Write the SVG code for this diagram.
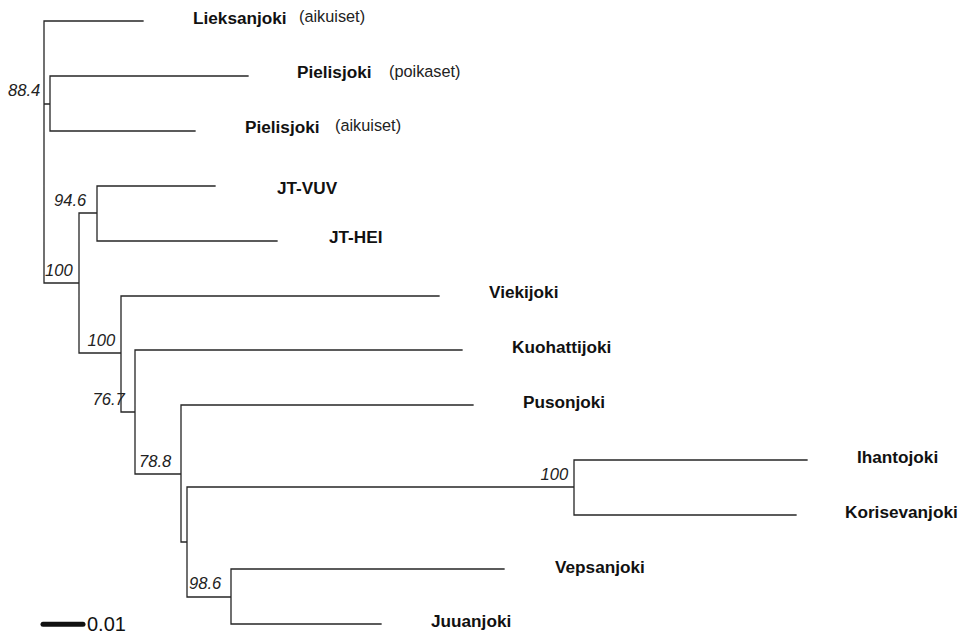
<svg xmlns="http://www.w3.org/2000/svg" width="964" height="634" viewBox="0 0 964 634">
<style>
.edge{fill:none;stroke:#262626;stroke-width:1.3;stroke-linecap:square}
.leaf{font-family:"Liberation Sans",Arial,sans-serif;font-weight:bold;font-size:17.2px;fill:#111}
.note{font-family:"Liberation Sans",Arial,sans-serif;font-size:16.3px;fill:#222}
.sup{font-family:"Liberation Sans",Arial,sans-serif;font-style:italic;font-size:16.6px;fill:#222}
.scale{fill:none;stroke:#111;stroke-width:5;stroke-linecap:round}
.scaletxt{font-family:"Liberation Sans",Arial,sans-serif;font-size:20px;fill:#111}
</style>
<rect width="964" height="634" fill="#ffffff"/>
<g id="connectors">
<path class="edge" d="M44 21V283 M44 21H143 M44 104H50 M50 76V131 M50 76H248 M50 131H195 M44 283H79 M79 213V353 M79 213H97 M97 186V241 M97 186H215 M97 241H277 M79 353H121 M121 296V412 M121 296H439 M121 412H135 M135 350V474 M135 350H462 M135 474H181 M181 405V542 M181 405H473 M181 542H187 M187 487V597 M187 487H574 M574 460V515 M574 460H807 M574 515H796 M187 597H231 M231 569V624 M231 569H504 M231 624H381"/>
</g>
<g id="leaf-lieksanjoki"><text class="leaf" x="193" y="23.5">Lieksanjoki</text><text class="note" x="299" y="21.5">(aikuiset)</text></g>
<g id="leaf-pielisjoki-poikaset"><text class="leaf" x="297" y="78">Pielisjoki</text><text class="note" x="389" y="77">(poikaset)</text></g>
<g id="leaf-pielisjoki-aikuiset"><text class="leaf" x="245" y="132.5">Pielisjoki</text><text class="note" x="335" y="130.5">(aikuiset)</text></g>
<g id="leaf-jt-vuv"><text class="leaf" x="277" y="194">JT-VUV</text></g>
<g id="leaf-jt-hei"><text class="leaf" x="329" y="242.5">JT-HEI</text></g>
<g id="leaf-viekijoki"><text class="leaf" x="489" y="298">Viekijoki</text></g>
<g id="leaf-kuohattijoki"><text class="leaf" x="512" y="353">Kuohattijoki</text></g>
<g id="leaf-pusonjoki"><text class="leaf" x="523" y="408">Pusonjoki</text></g>
<g id="leaf-ihantojoki"><text class="leaf" x="857" y="463">Ihantojoki</text></g>
<g id="leaf-korisevanjoki"><text class="leaf" x="845" y="518">Korisevanjoki</text></g>
<g id="leaf-vepsanjoki"><text class="leaf" x="555" y="572.5">Vepsanjoki</text></g>
<g id="leaf-juuanjoki"><text class="leaf" x="431" y="627">Juuanjoki</text></g>
<g id="node-pielisjoki"><text class="sup" x="8" y="95.5">88.4</text></g>
<g id="node-jt"><text class="sup" x="54" y="205.5">94.6</text></g>
<g id="node-root-inner"><text class="sup" x="45" y="275.5">100</text></g>
<g id="node-viekijoki-clade"><text class="sup" x="87.5" y="346">100</text></g>
<g id="node-kuohatti-clade"><text class="sup" x="92.5" y="405">76.7</text></g>
<g id="node-puson-clade"><text class="sup" x="139" y="466.5">78.8</text></g>
<g id="node-vepsan-clade"><text class="sup" x="189" y="589">98.6</text></g>
<g id="node-ihanto-clade"><text class="sup" x="540.5" y="480">100</text></g>
<g id="scalebar"><path class="scale" d="M43 624.3H83"/><text class="scaletxt" x="87" y="631">0.01</text></g>
</svg>
